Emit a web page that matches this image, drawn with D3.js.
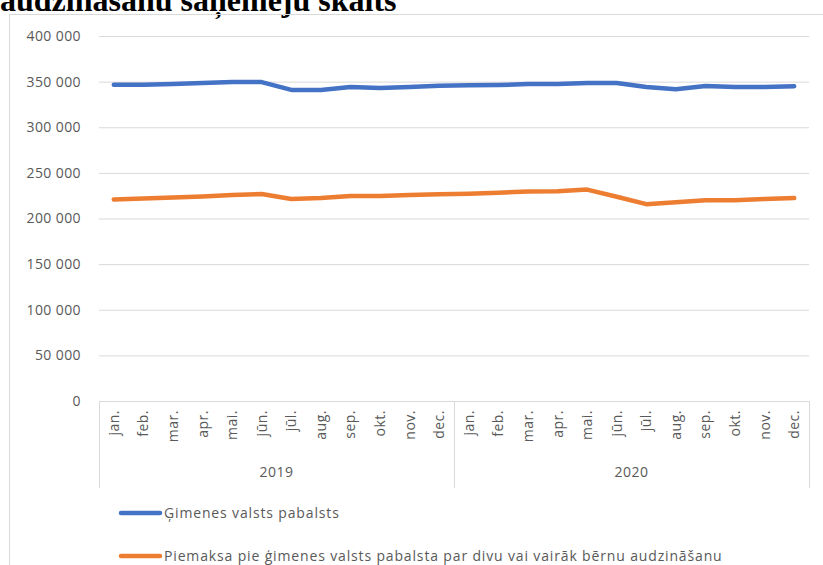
<!DOCTYPE html>
<html>
<head>
  <meta charset="UTF-8">
  <script src="https://d3js.org/d3.v7.min.js"></script>
  <style>
    body { margin: 0; background: #fff; }
    text { font-family: "Open Sans", "Liberation Sans", sans-serif; fill: #595959; }
  </style>
</head>
<body>
<script>
  var width = 823, height = 565;

  // data
  var years = ['2019', '2020'];
  var months = ['jan.', 'feb.', 'mar.', 'apr.', 'mai.', 'jūn.', 'jūl.', 'aug.', 'sep.', 'okt.', 'nov.', 'dec.'];
  var seriesNames = ['Ģimenes valsts pabalsts',
    'Piemaksa pie ģimenes valsts pabalsta par divu vai vairāk bērnu audzināšanu'];
  var pabalsts = [346700, 346700, 347500, 348500, 349500, 349500, 340900, 340900, 344000, 343000, 344000, 345500,
                  346000, 346300, 347300, 347400, 348500, 348500, 344000, 341600, 345300, 344200, 344200, 345000];
  var piemaksa = [220900, 222000, 223100, 224200, 225700, 226900, 221300, 222400, 224600, 224600, 225700, 226500,
                  227200, 228300, 229500, 229800, 231700, 223900, 215700, 217900, 220100, 220100, 221300, 222400];
  var yTicks = [0, 50000, 100000, 150000, 200000, 250000, 300000, 350000, 400000];
  var colors = ['#4472C4', '#ED7D31'];

  var keys = [];
  years.forEach(function(y) { months.forEach(function(m) { keys.push(y + '|' + m); }); });

  var svg = d3.select('body').append('svg').attr('width', width).attr('height', height);

  // cut-off title
  svg.append('text').attr('x', 0).attr('y', 11)
    .style('font-family', '"Liberation Serif", "Times New Roman", serif')
    .style('font-weight', 'bold').style('font-size', '32px').style('fill', '#000')
    .text('audzināšanu saņēmēju skaits');

  // chart frame
  svg.append('path').attr('d', 'M9.5,565 V14.5 H823').attr('fill', 'none').attr('stroke', '#d9d9d9');

  var plotL = 99, plotR = 809, plotT = 36, plotB = 401;
  var x = d3.scaleBand().domain(keys).range([plotL, plotR]);
  var y = d3.scaleLinear().domain([0, 400000]).range([plotB, plotT]);

  var fmt = function(d) { return d3.format(',')(d).replace(/,/g, ' '); };

  var yAxis = svg.append('g').attr('transform', 'translate(' + plotL + ',0)')
    .call(d3.axisLeft(y).tickValues(yTicks).tickSize(-(plotR - plotL)).tickPadding(18).tickFormat(fmt));
  yAxis.select('.domain').remove();
  yAxis.selectAll('line').attr('stroke', '#d9d9d9');
  yAxis.selectAll('text').style('font-size', '14px').style('fill', '#595959')
    .style('font-family', '"Open Sans", sans-serif').style('letter-spacing', '0.4px');

  // category axis box
  var g = svg.append('g');
  [plotL, x(keys[12]), plotR].forEach(function(v) {
    g.append('line').attr('x1', Math.round(v) + 0.5).attr('x2', Math.round(v) + 0.5)
      .attr('y1', plotB).attr('y2', 488).attr('stroke', '#d9d9d9');
  });

  keys.forEach(function(k, i) {
    var cx = x(k) + x.bandwidth() / 2 + 5;
    g.append('text').attr('transform', 'translate(' + cx + ',410) rotate(-90)')
      .attr('text-anchor', 'end').style('font-size', '14px').style('letter-spacing', '0.5px')
      .text(months[i % 12]);
  });
  years.forEach(function(yr) {
    var x0 = x(yr + '|' + months[0]), x1 = x(yr + '|' + months[11]) + x.bandwidth();
    g.append('text').attr('x', (x0 + x1) / 2).attr('y', 477).attr('text-anchor', 'middle')
      .style('font-size', '14px').style('letter-spacing', '0.5px').text(yr);
  });

  // lines
  var line = d3.line().x(function(d, i) { return x(keys[i]) + x.bandwidth() / 2; })
    .y(function(d) { return y(d); });
  [pabalsts, piemaksa].forEach(function(s, i) {
    svg.append('path').datum(s).attr('d', line).attr('fill', 'none')
      .attr('stroke', colors[i]).attr('stroke-width', 4.5)
      .attr('stroke-linecap', 'round').attr('stroke-linejoin', 'round');
  });

  // legend
  var legY = [513, 556];
  seriesNames.forEach(function(n, i) {
    svg.append('line').attr('x1', 121).attr('x2', 160).attr('y1', legY[i]).attr('y2', legY[i])
      .attr('stroke', colors[i]).attr('stroke-width', 4.5).attr('stroke-linecap', 'round');
    svg.append('text').attr('x', 164).attr('y', legY[i] + 5).style('font-size', '14px')
      .style('letter-spacing', '0.85px').text(n);
  });
</script>
</body>
</html>
